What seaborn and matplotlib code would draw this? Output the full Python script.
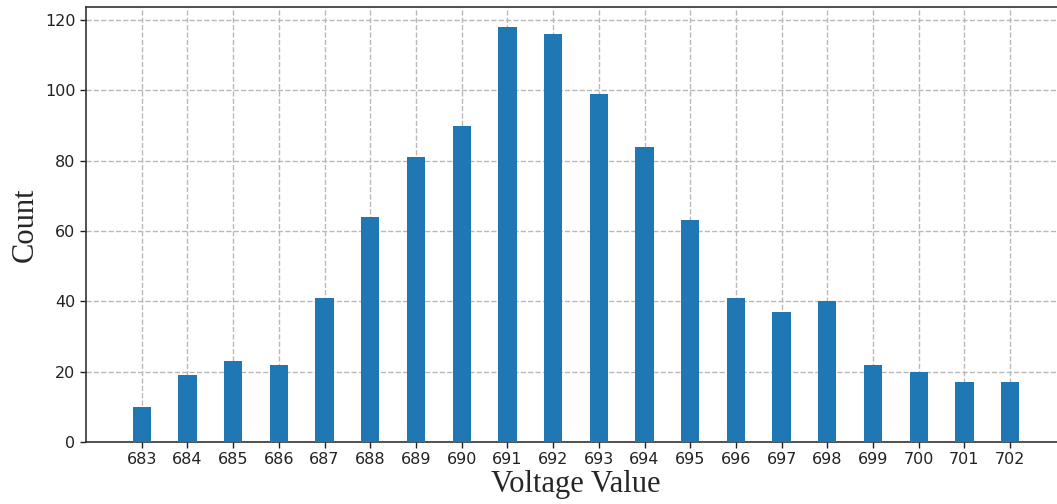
import matplotlib
matplotlib.use("Agg")
import matplotlib.pyplot as plt
import seaborn as sns

voltages = [683, 684, 685, 686, 687, 688, 689, 690, 691, 692,
            693, 694, 695, 696, 697, 698, 699, 700, 701, 702]
counts = [10, 19, 23, 22, 41, 64, 81, 90, 118, 116,
          99, 84, 63, 41, 37, 40, 22, 20, 17, 17]
y_ticks = [0, 20, 40, 60, 80, 100, 120]

sns.set_style("ticks")
plt.rcParams["font.family"] = ["DejaVu Sans"]

fig = plt.figure(figsize=(10.57, 5.04), dpi=100)
ax = fig.add_axes([0.0814, 0.123, 0.927, 0.863])

sns.barplot(x=voltages, y=counts, native_scale=True, width=0.4,
            color="#1f77b4", saturation=1, linewidth=0, ax=ax, zorder=3)

ax.set_xticks(voltages)
ax.set_xticklabels([str(v) for v in voltages], fontsize=11.5)
ax.set_yticks(y_ticks)
ax.set_yticklabels([str(v) for v in y_ticks], fontsize=11.5)
ax.set_xlim(681.78, 703.22)
ax.set_ylim(0, 123.7)

ax.grid(True, linestyle="--", color="#b8b8b8", linewidth=1, zorder=0)
ax.set_axisbelow(True)
ax.tick_params(direction="out", length=4, width=1, colors="#222222")
for s in ax.spines.values():
    s.set_color("#333333")
    s.set_linewidth(1.2)

ax.set_xlabel("Voltage Value", fontsize=22, family=["Liberation Serif"], labelpad=2)
ax.set_ylabel("Count", fontsize=22, family=["Liberation Serif"], labelpad=4)

fig.savefig("out.png", dpi=100)
